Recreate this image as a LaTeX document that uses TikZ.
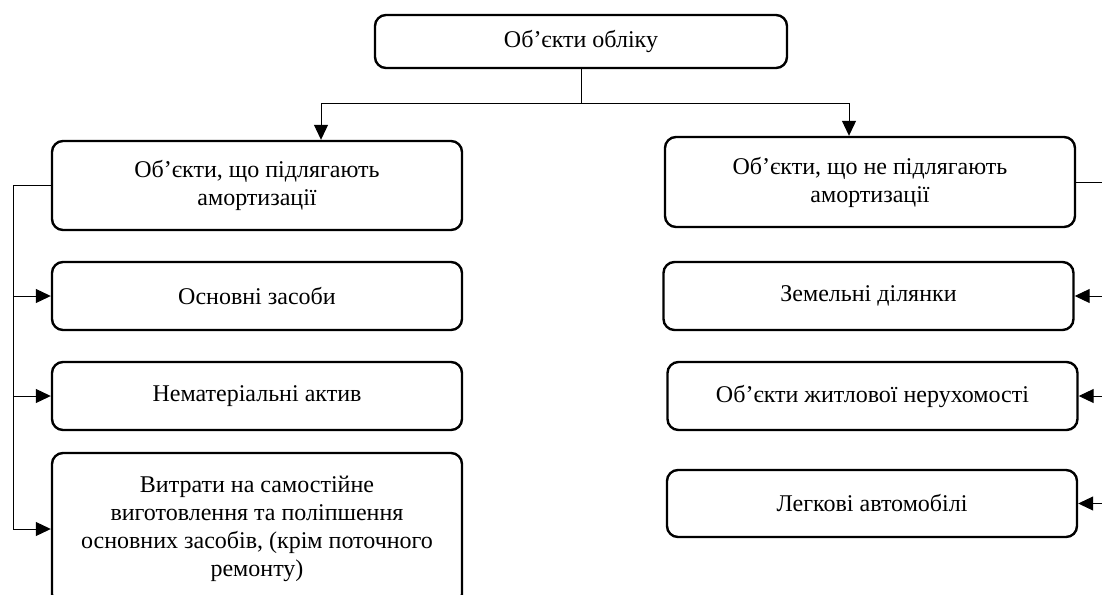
\documentclass[tikz,border=0pt]{standalone}
\usepackage{fontspec}
\setmainfont{Liberation Serif}
\usepackage{tikz}
\usetikzlibrary{calc,positioning,arrows.meta}
\tikzset{
  box/.style={draw=black,line width=1.2pt,rounded corners=5.5pt,fill=white,align=center,
              font=\fontsize{12}{14}\selectfont,minimum width=205pt,inner sep=3pt},
  arr/.style={-{Triangle[length=7.5pt,width=7pt]},line width=0.5pt,black},
  link/.style={line width=0.5pt,black}
}
\begin{document}
\begin{tikzpicture}[x=0.5pt,y=-0.5pt]
  \useasboundingbox (0,0) rectangle (1102,594);
  \node[box,minimum width=206pt,minimum height=26.5pt] (obj) at (581,41.5) {Об’єкти обліку};
  % left branch
  \node[box,minimum height=44.5pt] (am)  at (257,185.5) {Об’єкти, що підлягають\\амортизації};
  \node[box,minimum height=34pt]   (os)  at (257,296)   {Основні засоби};
  \node[box,minimum height=34pt]   (na)  at (257,396)   {Нематеріальні актив};
  \node[box,minimum height=76pt]   (vs)  at (257,529)   {Витрати на самостійне\\виготовлення та поліпшення\\основних засобів, (крім поточного\\ремонту)};
  % right branch
  \node[box,minimum height=45pt]   (nam) at (870,182)   {Об’єкти, що не підлягають\\амортизації};
  \node[box,minimum height=34pt]   (zd)  at (868.5,296) {Земельні ділянки};
  \node[box,minimum height=34pt]   (zn)  at (872.5,396) {Об’єкти житлової нерухомості};
  \node[box,minimum height=33.5pt] (la)  at (872,503.5) {Легкові автомобілі};
  \coordinate (jn) at (581,103);
  \coordinate (lt) at (13,0);
  \coordinate (rt) at (1104,0);
  \draw[link] (obj.south) -- (jn);
  \draw[arr] (jn) -| ([xshift=32pt]am.north);
  \draw[arr] (jn) -| ([xshift=-10.5pt]nam.north);
  \draw[link] (am.west) -| (lt |- vs.west);
  \foreach \n in {os,na,vs} \draw[arr] (lt |- \n.west) -- (\n.west);
  \draw[link] (nam.east) -| (rt |- la.east);
  \foreach \n in {zd,zn,la} \draw[arr] (rt |- \n.east) -- (\n.east);
\end{tikzpicture}
\end{document}
